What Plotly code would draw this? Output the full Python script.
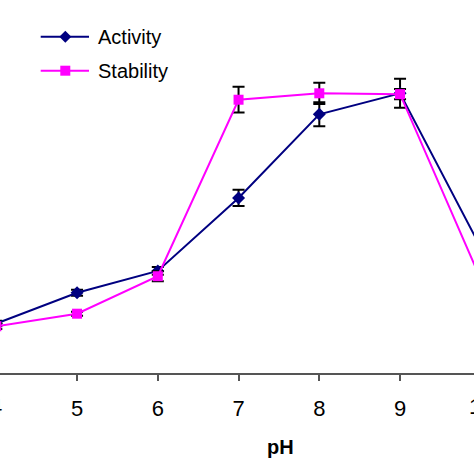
import plotly.graph_objects as go

ph = [4, 5, 6, 7, 8, 9, 10]
activity = [17.7, 28.7, 36.5, 62.6, 92.5, 100.0, 44.8]
activity_err = [1.0, 1.1, 1.4, 2.9, 4.3, 5.2, 3.0]
stability = [16.7, 21.2, 34.6, 97.7, 100.0, 99.7, 33.5]
stability_err = [1.0, 0.7, 1.8, 4.6, 3.8, 1.8, 3.0]
tick_vals = [4, 5, 6, 7, 8, 9, 10]
tick_text = ["4", "5", "6", "7", "8", "9", "10"]

NAVY = "#000080"
MAGENTA = "#FF00FF"
FONT = "Liberation Sans, Arial, sans-serif"

fig = go.Figure()
fig.add_trace(go.Scatter(
    x=ph, y=activity, mode="lines+markers", name="Activity",
    line=dict(color=NAVY, width=2),
    marker=dict(symbol="diamond", size=10, color=NAVY),
    error_y=dict(type="data", array=activity_err, visible=True, color="black", thickness=2, width=6),
))
fig.add_trace(go.Scatter(
    x=ph, y=stability, mode="lines+markers", name="Stability",
    line=dict(color=MAGENTA, width=2),
    marker=dict(symbol="square", size=10, color=MAGENTA),
    error_y=dict(type="data", array=stability_err, visible=True, color="black", thickness=2, width=6),
))

W, H = 474, 474
B = 101
PH = H - B
def px_x(p):
    return p / W
def px_y(p):
    return (PH - p) / PH

shapes = []
annotations = []
legend_items = [("Activity", NAVY, "diamond", 36.7), ("Stability", MAGENTA, "square", 70.7)]
for name, col, sym, py in legend_items:
    yy = px_y(py)
    shapes.append(dict(type="line", xref="paper", yref="paper", x0=px_x(40.7), x1=px_x(89), y0=yy, y1=yy,
                       line=dict(color=col, width=2), layer="above"))
    if sym == "diamond":
        path = "M-6,0 L0,6 L6,0 L0,-6 Z"
    else:
        path = "M-5,-5 L5,-5 L5,5 L-5,5 Z"
    shapes.append(dict(type="path", xref="paper", yref="paper", xsizemode="pixel", ysizemode="pixel",
                       xanchor=px_x(65.3), yanchor=yy, path=path, fillcolor=col,
                       line=dict(color=col, width=0), layer="above"))
    annotations.append(dict(text=name, xref="paper", yref="paper", x=px_x(95.7), y=yy, xanchor="left",
                            yanchor="middle", showarrow=False, font=dict(family=FONT, size=20, color="black")))

# partial tick labels at the cropped edges (pH 4 and pH 10 sit just outside the visible area)
x_px_per_unit = 80.75
x_px_at_4 = -3.7
for v, t in [(4, "4"), (10, "10")]:
    pxv = x_px_at_4 + (v - 4) * x_px_per_unit
    annotations.append(dict(text=t, xref="paper", yref="paper", x=px_x(pxv), y=px_y(406.5), xanchor="center",
                            yanchor="middle", showarrow=False, font=dict(family=FONT, size=22, color="black")))

annotations.append(dict(text="<b>pH</b>", xref="paper", yref="paper", x=px_x(280), y=px_y(447),
                        xanchor="center", yanchor="middle", showarrow=False,
                        font=dict(family=FONT, size=20, color="black")))

x0 = 4 - x_px_at_4 / x_px_per_unit
x1 = 4 + (W - x_px_at_4) / x_px_per_unit

fig.update_layout(
    width=W, height=H,
    margin=dict(l=0, r=0, t=0, b=B, pad=0),
    paper_bgcolor="white", plot_bgcolor="white",
    showlegend=False,
    shapes=shapes, annotations=annotations,
    xaxis=dict(range=[x0, x1], tickvals=tick_vals, ticktext=tick_text, showgrid=False, zeroline=False,
               showline=True, linecolor="#555555", linewidth=1.5, ticks="outside", ticklen=6,
               tickcolor="#555555", tickwidth=1.5, ticklabelstandoff=9,
               tickfont=dict(family=FONT, size=22, color="black")),
    yaxis=dict(range=[0, PH / 2.797], visible=False, showgrid=False, zeroline=False),
)

fig.write_html("out.html", config={"displayModeBar": False},
               post_script="document.body.style.margin='0';document.body.style.overflow='hidden';")
